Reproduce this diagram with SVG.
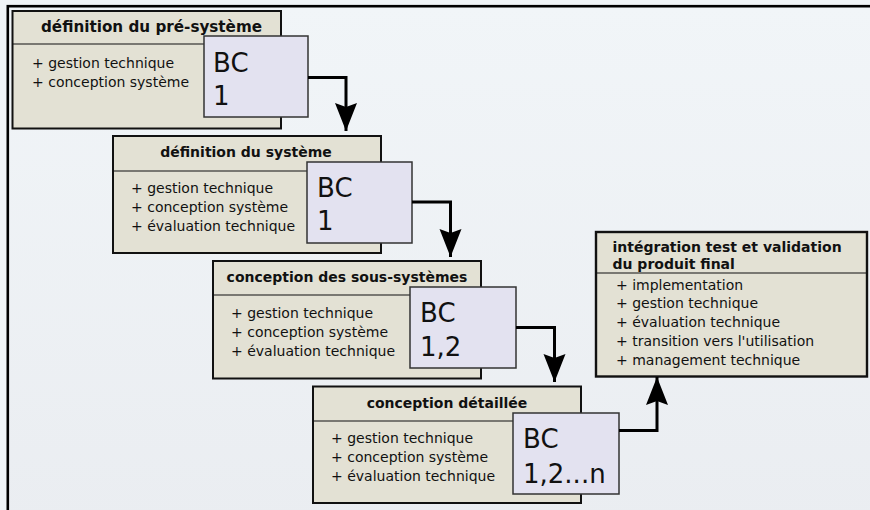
<svg xmlns="http://www.w3.org/2000/svg" width="870" height="510" viewBox="0 0 870 510">
<style>
.pkg{fill:#e3e1d4;stroke:#111;stroke-width:2}
.sep{stroke:#111;stroke-width:1.2}
.bc{fill:#e3e2f0;stroke:#333;stroke-width:1.5}
.t{font-family:"DejaVu Sans",sans-serif;font-size:14px;font-weight:bold;fill:#111}
.i{font-family:"DejaVu Sans",sans-serif;font-size:14px;fill:#111}
.b{font-family:"DejaVu Sans",sans-serif;font-size:26px;fill:#111}
.c{fill:none;stroke:#000;stroke-width:3}
</style>
<defs>
<linearGradient id="bg" x1="0" y1="0" x2="0" y2="1">
<stop offset="0" stop-color="#f1f5f8"/>
<stop offset="1" stop-color="#eaedf1"/>
</linearGradient>
<marker id="ah" markerUnits="userSpaceOnUse" markerWidth="30" markerHeight="24" viewBox="0 -12 30 24" refX="28" refY="0" orient="auto">
<path d="M0,-11 L28,0 L0,11 L4,0 Z" fill="#000"/>
</marker>
</defs>
<rect width="870" height="510" fill="#f0f4f7"/>
<rect x="7.8" y="6.2" width="880" height="520" fill="url(#bg)" stroke="#000" stroke-width="2.6"/>

<g id="n1">
<rect class="pkg" x="12.5" y="11" width="268.5" height="117.5"/>
<line class="sep" x1="12.5" y1="44" x2="281" y2="44"/>
<text class="t" x="41" y="32" style="font-size:15.2px">définition du pré-système</text>
<text class="i" x="32" y="68">+ gestion technique</text>
<text class="i" x="32" y="87">+ conception système</text>
<rect class="bc" x="204" y="36" width="104" height="81"/>
<text class="b" x="213" y="72">BC</text>
<text class="b" x="213" y="105">1</text>
</g>

<g id="n2">
<rect class="pkg" x="113" y="136" width="268" height="117"/>
<line class="sep" x1="113" y1="171" x2="381" y2="171"/>
<text class="t" x="246" y="157" text-anchor="middle">définition du système</text>
<text class="i" x="131" y="193">+ gestion technique</text>
<text class="i" x="131" y="212">+ conception système</text>
<text class="i" x="131" y="231">+ évaluation technique</text>
<rect class="bc" x="307" y="162" width="105" height="81"/>
<text class="b" x="317" y="197">BC</text>
<text class="b" x="317" y="230">1</text>
</g>

<g id="n3">
<rect class="pkg" x="213" y="261" width="268" height="117.5"/>
<line class="sep" x1="213" y1="295" x2="481" y2="295"/>
<text class="t" x="347" y="282" text-anchor="middle">conception des sous-systèmes</text>
<text class="i" x="231" y="318">+ gestion technique</text>
<text class="i" x="231" y="337">+ conception système</text>
<text class="i" x="231" y="356">+ évaluation technique</text>
<rect class="bc" x="410" y="287" width="106" height="81"/>
<text class="b" x="420" y="322">BC</text>
<text class="b" x="420" y="356">1,2</text>
</g>

<g id="n4">
<rect class="pkg" x="313" y="386.5" width="268" height="116.5"/>
<line class="sep" x1="313" y1="421" x2="581" y2="421"/>
<text class="t" x="447" y="408" text-anchor="middle">conception détaillée</text>
<text class="i" x="331" y="443">+ gestion technique</text>
<text class="i" x="331" y="462">+ conception système</text>
<text class="i" x="331" y="481">+ évaluation technique</text>
<rect class="bc" x="513" y="413" width="106" height="81"/>
<text class="b" x="523" y="448">BC</text>
<text class="b" x="523" y="483">1,2...n</text>
</g>

<g id="n5">
<rect class="pkg" x="596" y="232" width="271" height="144.5" style="stroke-width:2.4"/>
<line class="sep" x1="596" y1="273" x2="867" y2="273"/>
<text class="t" x="612.5" y="251.5">intégration test et validation</text>
<text class="t" x="612.5" y="268.5">du produit final</text>
<text class="i" x="616" y="289.5">+ implementation</text>
<text class="i" x="616" y="308.3">+ gestion technique</text>
<text class="i" x="616" y="327">+ évaluation technique</text>
<text class="i" x="616" y="345.8">+ transition vers l'utilisation</text>
<text class="i" x="616" y="364.5">+ management technique</text>
</g>

<g id="connectors">
<path class="c" d="M308,77.5 H346 V131" marker-end="url(#ah)"/>
<path class="c" d="M412,202 H450.5 V257" marker-end="url(#ah)"/>
<path class="c" d="M516,327.5 H554.5 V382" marker-end="url(#ah)"/>
<path class="c" d="M619,430.5 H657 V377" marker-end="url(#ah)"/>
</g>
</svg>
